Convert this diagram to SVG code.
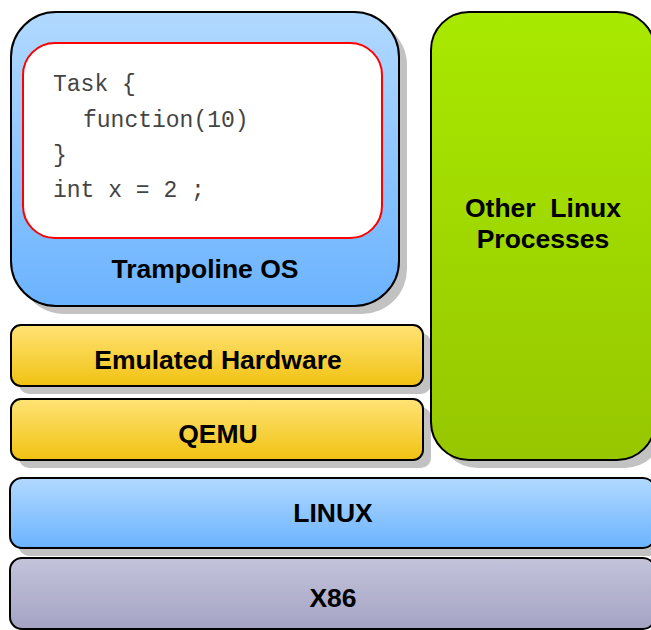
<svg xmlns="http://www.w3.org/2000/svg" width="651" height="630" viewBox="0 0 651 630">
<defs>
<linearGradient id="gBlue" x1="0" y1="0" x2="0" y2="1"><stop offset="0" stop-color="#b2d9ff"/><stop offset="1" stop-color="#6bb3ff"/></linearGradient>
<linearGradient id="gYel" x1="0" y1="0" x2="0" y2="1"><stop offset="0" stop-color="#ffe375"/><stop offset="1" stop-color="#f1c212"/></linearGradient>
<linearGradient id="gGreen" x1="0" y1="0" x2="0" y2="1"><stop offset="0" stop-color="#a8e900"/><stop offset="1" stop-color="#97c700"/></linearGradient>
<linearGradient id="gGray" x1="0" y1="0" x2="0" y2="1"><stop offset="0" stop-color="#c3c3da"/><stop offset="1" stop-color="#a5a3c4"/></linearGradient>
</defs>
<style>
.sh{fill:#c2c2c2}
.box{stroke:#000;stroke-width:2}
.lbl{font-family:"Liberation Sans",Arial,sans-serif;font-weight:bold;font-size:26.5px;fill:#000;text-anchor:middle}
.code{font-family:"Liberation Mono","Courier New",monospace;font-size:23px;fill:#444}
</style>
<g id="shadows">
<rect class="sh" x="19" y="20" width="388" height="294" rx="45"/>
<rect class="sh" x="439" y="20" width="224" height="448" rx="38"/>
<rect class="sh" x="19" y="333" width="412" height="61" rx="10"/>
<rect class="sh" x="19" y="407" width="412" height="61" rx="10"/>
<rect class="sh" x="18" y="486" width="645" height="70" rx="12"/>
</g>
<g id="trampoline">
<rect class="box" x="11" y="12" width="388" height="294" rx="45" fill="url(#gBlue)"/>
<rect x="23" y="43" width="359" height="195" rx="32" fill="#fff" stroke="#ff0000" stroke-width="2"/>
<text class="code" x="53" y="91">Task {</text>
<text class="code" x="83" y="127">function(10)</text>
<text class="code" x="53" y="162">}</text>
<text class="code" x="53" y="197" xml:space="preserve">int x = 2 ;</text>
<text class="lbl" x="205" y="278">Trampoline OS</text>
</g>
<g id="other">
<rect class="box" x="431" y="12" width="224" height="448" rx="38" fill="url(#gGreen)"/>
<text class="lbl" x="543" y="217" xml:space="preserve">Other  Linux</text>
<text class="lbl" x="543" y="248">Processes</text>
</g>
<g id="emulated">
<rect class="box" x="11" y="325" width="412" height="61" rx="10" fill="url(#gYel)"/>
<text class="lbl" x="218" y="369">Emulated Hardware</text>
</g>
<g id="qemu">
<rect class="box" x="11" y="399" width="412" height="61" rx="10" fill="url(#gYel)"/>
<text class="lbl" x="218" y="443">QEMU</text>
</g>
<g id="linux">
<rect class="box" x="10" y="478" width="645" height="70" rx="12" fill="url(#gBlue)"/>
<text class="lbl" x="333" y="522">LINUX</text>
</g>
<g id="x86">
<rect class="box" x="10" y="558" width="645" height="71" rx="12" fill="url(#gGray)"/>
<text class="lbl" x="333" y="607">X86</text>
</g>
<g id="connectors"/>
</svg>
